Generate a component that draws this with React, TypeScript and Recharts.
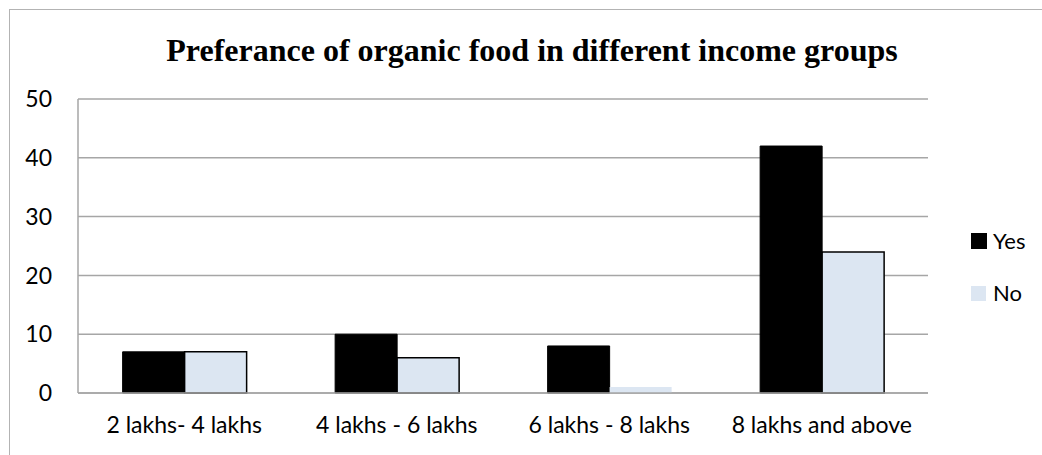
import React from "react";
import { BarChart, Bar, XAxis, YAxis, CartesianGrid, Legend, Cell } from "recharts";

const categories = ["2 lakhs- 4 lakhs", "4 lakhs - 6 lakhs", "6 lakhs - 8 lakhs", "8 lakhs and above"];
const yesValues = [7, 10, 8, 42];
const noValues = [7, 6, 1, 24];
const yTicks = [0, 10, 20, 30, 40, 50];
const noBordered = [true, true, false, true];

const data = categories.map((c, i) => ({ name: c, Yes: yesValues[i], No: noValues[i] }));

const YES_COLOR = "#000000";
const NO_COLOR = "#dce6f2";
const AXIS_FONT = "Lato, 'Open Sans', sans-serif";
const FS = 23;

const LegendContent = () => (
  <div style={{ fontFamily: AXIS_FONT, fontSize: 22, color: "#000", lineHeight: "22px" }}>
    <div style={{ display: "flex", alignItems: "center", height: 22 }}>
      <span style={{ display: "inline-block", width: 16, height: 16, background: YES_COLOR, marginRight: 6 }} />
      <span>Yes</span>
    </div>
    <div style={{ display: "flex", alignItems: "center", height: 22, marginTop: 30 }}>
      <span style={{ display: "inline-block", width: 15, height: 15, background: NO_COLOR, marginRight: 7 }} />
      <span>No</span>
    </div>
  </div>
);

export default function App() {
  return (
    <div style={{ position: "absolute", left: 0, top: 0, width: 1042, height: 455, background: "#fff", overflow: "hidden" }}>
      <div
        style={{
          position: "absolute",
          left: 9,
          top: 9,
          width: 1100,
          height: 500,
          borderTop: "1.5px solid #b3b3b3",
          borderLeft: "1.5px solid #b3b3b3",
        }}
      />
      <div
        style={{
          position: "absolute",
          left: 0,
          width: 1064,
          top: 32,
          textAlign: "center",
          fontFamily: "'Liberation Serif', 'Times New Roman', serif",
          fontWeight: "bold",
          fontSize: 32,
          lineHeight: "36px",
          color: "#000",
        }}
      >
        Preferance of organic food in different income groups
      </div>
      <div style={{ position: "absolute", left: 0, top: 0 }}>
        <BarChart
          width={1042}
          height={455}
          data={data}
          margin={{ top: 99, right: 44, bottom: 0, left: 0 }}
          barCategoryGap="21%"
          barGap={0}
        >
          <CartesianGrid horizontal={true} vertical={false} stroke="#a6a6a6" strokeWidth={1.5} />
          <XAxis
            dataKey="name"
            height={62}
            axisLine={{ stroke: "#a6a6a6", strokeWidth: 1.5 }}
            tickLine={false}
            tickSize={0}
            tickMargin={24}
            tick={{ fill: "#000", fontSize: FS, fontFamily: AXIS_FONT }}
            interval={0}
          />
          <YAxis
            width={78}
            domain={[0, 50]}
            ticks={yTicks}
            axisLine={{ stroke: "#a6a6a6", strokeWidth: 1.5 }}
            tickLine={false}
            tickSize={0}
            tickMargin={26}
            tick={{ fill: "#000", fontSize: FS, fontFamily: AXIS_FONT }}
          />
          <Legend
            layout="vertical"
            align="right"
            verticalAlign="top"
            content={<LegendContent />}
            wrapperStyle={{ position: "absolute", left: 971, top: 230, width: 70 }}
          />
          <Bar dataKey="Yes" fill={YES_COLOR} stroke="#000" strokeWidth={1} isAnimationActive={false} />
          <Bar dataKey="No" fill={NO_COLOR} isAnimationActive={false}>
            {noValues.map((_, i) => (
              <Cell key={i} fill={NO_COLOR} stroke={noBordered[i] ? "#000" : "none"} strokeWidth={1.5} />
            ))}
          </Bar>
        </BarChart>
      </div>
    </div>
  );
}
